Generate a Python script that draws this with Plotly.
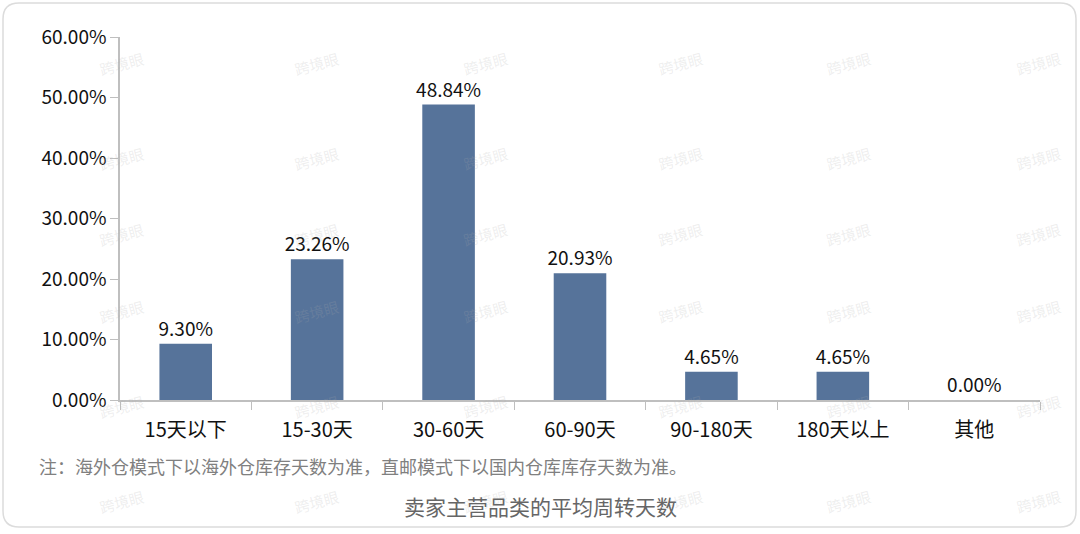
import plotly.graph_objects as go

categories = ["15天以下", "15-30天", "30-60天", "60-90天", "90-180天", "180天以上", "其他"]
values = [9.30, 23.26, 48.84, 20.93, 4.65, 4.65, 0.00]
tick_vals = [0, 10, 20, 30, 40, 50, 60]
tick_text = ["0.00%", "10.00%", "20.00%", "30.00%", "40.00%", "50.00%", "60.00%"]
note_text = "注：海外仓模式下以海外仓库存天数为准，直邮模式下以国内仓库库存天数为准。"
title_text = "卖家主营品类的平均周转天数"
watermark = "跨境眼"

W, H = 1080, 534
ml, mr, mt, mb = 120, 40, 37, 134
FONT = "Noto Sans CJK SC"

fig = go.Figure()
fig.add_trace(go.Bar(
    x=categories, y=values,
    marker=dict(color="#56739A", line=dict(width=0)),
    width=0.4,
    text=[f"{v:.2f}%" for v in values],
    textposition="outside",
    textangle=0,
    constraintext="none",
    textfont=dict(size=19, color="#111111", family=FONT),
    cliponaxis=False,
    hoverinfo="skip",
))

def px(x):
    return (x - ml) / (W - ml - mr)

def py(y):
    return (H - mb - y) / (H - mt - mb)

annotations = []
wx = [95, 290, 485, 680, 875, 1065]
wy = [45, 140, 235, 330, 425, 520]
for yy in wy:
    for xx in wx:
        annotations.append(dict(
            x=px(xx), y=py(yy), xref="paper", yref="paper",
            text=watermark, showarrow=False, textangle=-15,
            font=dict(size=15, color="rgba(170,170,170,0.20)", family=FONT),
        ))

annotations.append(dict(
    x=px(37), y=py(466), xref="paper", yref="paper", xanchor="left", yanchor="middle",
    text=note_text, showarrow=False,
    font=dict(size=18, color="#808080", family=FONT),
))
annotations.append(dict(
    x=px(540), y=py(506), xref="paper", yref="paper", xanchor="center", yanchor="middle",
    text=title_text, showarrow=False,
    font=dict(size=21, color="#666666", family=FONT),
))

x0, x1, y0, y1, r = 3, 1076, 3, 527, 16
pts = (f"M {px(x0 + r)},{py(y0)} L {px(x1 - r)},{py(y0)} "
       f"Q {px(x1)},{py(y0)} {px(x1)},{py(y0 + r)} "
       f"L {px(x1)},{py(y1 - r)} Q {px(x1)},{py(y1)} {px(x1 - r)},{py(y1)} "
       f"L {px(x0 + r)},{py(y1)} Q {px(x0)},{py(y1)} {px(x0)},{py(y1 - r)} "
       f"L {px(x0)},{py(y0 + r)} Q {px(x0)},{py(y0)} {px(x0 + r)},{py(y0)} Z")

fig.update_layout(
    width=W, height=H,
    margin=dict(l=ml, r=mr, t=mt, b=mb),
    paper_bgcolor="white", plot_bgcolor="white",
    showlegend=False,
    font=dict(family=FONT, color="#111111"),
    annotations=annotations,
    shapes=[dict(type="path", path=pts, xref="paper", yref="paper",
                 line=dict(color="#dcdcdc", width=1.5), layer="below")],
    xaxis=dict(
        showline=True, linecolor="#bfbfbf", linewidth=1.5,
        ticks="outside", tickson="boundaries", ticklen=8, tickcolor="#bfbfbf",
        tickfont=dict(size=20, color="#111111", family=FONT),
        ticklabelstandoff=11,
        showgrid=False, zeroline=False,
    ),
    yaxis=dict(
        range=[0, 60], tickvals=tick_vals, ticktext=tick_text,
        showline=True, linecolor="#bfbfbf", linewidth=1.5,
        ticks="outside", ticklen=8, tickcolor="#bfbfbf",
        tickfont=dict(size=19, color="#111111", family=FONT),
        showgrid=False, zeroline=False,
    ),
    bargap=0.6,
)

fig.write_html("out.html", config={"displayModeBar": False},
               post_script="document.body.style.margin='0';document.body.style.overflow='hidden';")
